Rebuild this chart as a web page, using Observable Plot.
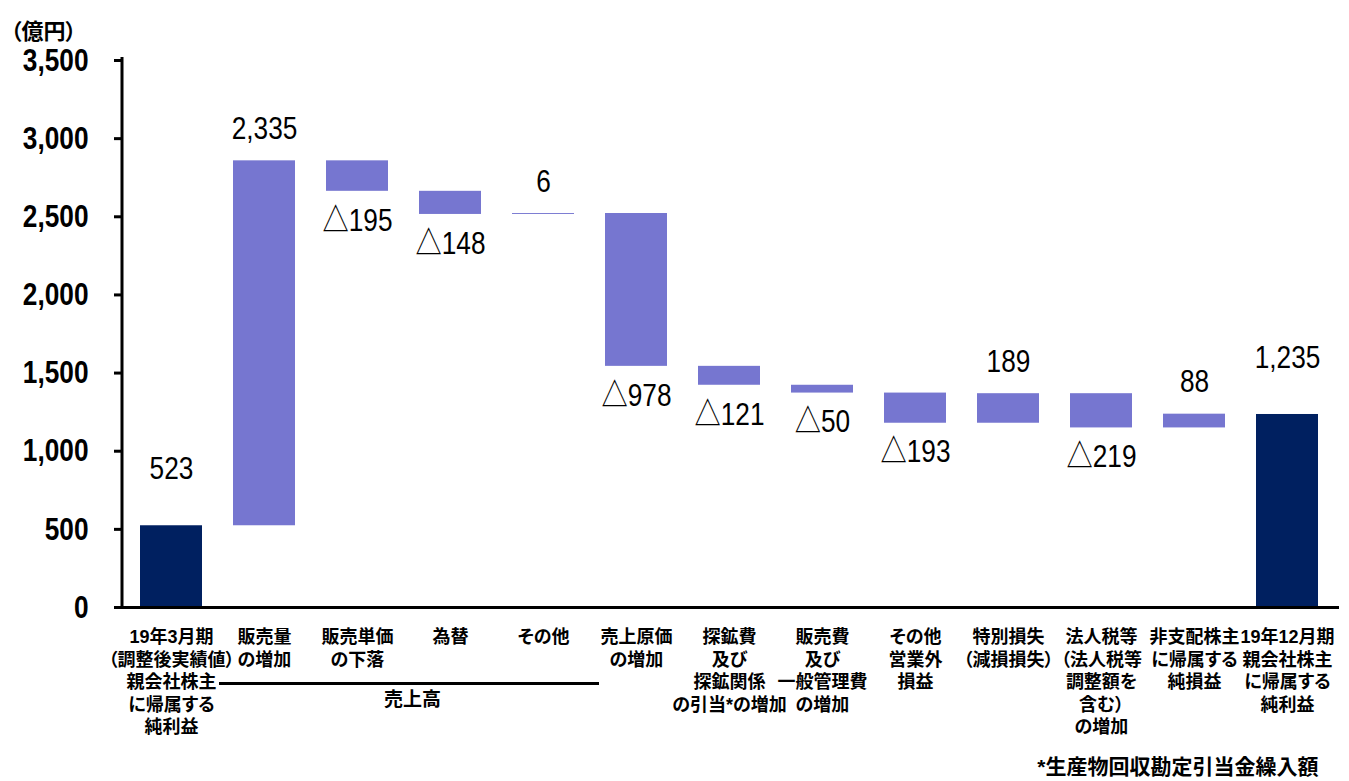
<!DOCTYPE html>
<html><head><meta charset="utf-8">
<script src="https://cdn.jsdelivr.net/npm/d3@7"></script>
<script src="https://cdn.jsdelivr.net/npm/@observablehq/plot@0.6"></script>
<style>
body{margin:0;background:#fff;}
svg text{font-feature-settings:"palt";}
g[aria-label="y-axis tick label"] text{font-weight:bold;}
g[aria-label="x-axis tick label"] text{font-weight:bold;}
</style></head><body><div id="chart"></div>
<script>
const categories = [
  "19年3月期\n（調整後実績値）\n親会社株主\nに帰属する\n純利益",
  "販売量\nの増加",
  "販売単価\nの下落",
  "為替",
  "その他",
  "売上原価\nの増加",
  "探鉱費\n及び\n探鉱関係\nの引当*の増加",
  "販売費\n及び\n一般管理費\nの増加",
  "その他\n営業外\n損益",
  "特別損失\n（減損損失）",
  "法人税等\n（法人税等\n調整額を\n含む）\nの増加",
  "非支配株主\nに帰属する\n純損益",
  "19年12月期\n親会社株主\nに帰属する\n純利益"
];
const values = [523, 2335, -195, -148, 6, -978, -121, -50, -193, 189, -219, 88, 1235];
const kinds = ["total","delta","delta","delta","delta","delta","delta","delta","delta","delta","delta","delta","total"];
const yTicks = [0, 500, 1000, 1500, 2000, 2500, 3000, 3500];
const groupLabel = "売上高";
const groupFrom = 1, groupTo = 4;
const unitLabel = "（億円）";
const footnote = "*生産物回収勘定引当金繰入額";

const FONT = "'Liberation Sans','Noto Sans CJK JP',sans-serif";
const fmt = d3.format(",");
let run = 0;
const rows = categories.map((c, i) => {
  const v = values[i];
  let a, b;
  if (kinds[i] === "total") { a = 0; b = v; run = v; }
  else { a = run; b = run + v; run = b; }
  return {cat: c, v, kind: kinds[i], lo: Math.min(a, b), hi: Math.max(a, b),
          label: v < 0 ? "△" + fmt(-v) : fmt(v)};
});

const plot = Plot.plot({
  width: 1349, height: 781,
  marginLeft: 122, marginRight: 13, marginTop: 60, marginBottom: 174,
  style: {fontFamily: FONT, color: "#000", background: "#fff", overflow: "visible"},
  x: {domain: categories, paddingInner: 0.33, paddingOuter: 0.165, label: null},
  y: {domain: [0, 3500], label: null},
  marks: [
    Plot.barY(rows.filter(d => d.kind === "delta"), {x: "cat", y1: "lo", y2: "hi", fill: "#7676D0"}),
    Plot.barY(rows.filter(d => d.kind === "total"), {x: "cat", y1: "lo", y2: "hi", fill: "#002060"}),
    Plot.ruleY([0], {stroke: "#000", strokeWidth: 3, insetLeft: -1, insetRight: -3}),
    Plot.axisY({ticks: yTicks, tickFormat: d => fmt(d), tickSize: 8, tickPadding: 26, strokeWidth: 3,
                fontSize: 32, fontWeight: "bold", label: null}),
    Plot.axisX({tickSize: 0, tickPadding: 20, fontSize: 18, fontWeight: "bold", lineHeight: 1.25, label: null}),
    Plot.text(rows.filter(d => d.kind === "total"), {x: "cat", y: "hi", text: "label", dy: -57, fontSize: 32, fill: "#000"}),
    Plot.text(rows.filter(d => d.kind === "delta" && d.v >= 0), {x: "cat", y: "hi", text: "label", dy: -32, fontSize: 32, fill: "#000"}),
    Plot.text(rows.filter(d => d.kind === "delta" && d.v < 0), {x: "cat", y: "lo", text: "label", dy: 29, fontSize: 32, fill: "#000"}),
    Plot.ruleY([0], {x1: () => categories[groupFrom], x2: () => categories[groupTo], dy: 76,
                     stroke: "#000", strokeWidth: 3, insetLeft: -14, insetRight: -25}),
    Plot.text([groupLabel], {x: () => categories[2], text: d => d, frameAnchor: "bottom", dx: 55, dy: 98,
                             fontSize: 19, fontWeight: "bold", fill: "#000"}),
    Plot.text([unitLabel], {text: d => d, frameAnchor: "top-left", textAnchor: "start", dx: -112, dy: -37,
                            fontSize: 22, fontWeight: "bold", fill: "#000"}),
    Plot.text([footnote], {text: d => d, frameAnchor: "bottom-right", textAnchor: "end", dx: -18, dy: 166,
                           fontSize: 21, fontWeight: "bold", fill: "#000"})
  ]
});

// narrow numeric glyphs (Arial Narrow look): scale horizontally about the anchor
d3.select(plot).selectAll("text").each(function () {
  const t = this.textContent;
  if (!/^[△\d,]+$/.test(t)) return;
  const tr = this.getAttribute("transform") || "";
  const xa = this.getAttribute("x");
  const x = xa !== null && isFinite(+xa) ? +xa : 0;
  if (xa !== null && isFinite(+xa)) this.removeAttribute("x");
  this.setAttribute("transform", `${tr} translate(${x},0) scale(0.82,1)`);
});

const ys = plot.scale("y"), xs = plot.scale("x");
d3.select(plot).append("line")
  .attr("x1", xs.range[0]).attr("x2", xs.range[0])
  .attr("y1", ys.apply(3500) - 3).attr("y2", ys.apply(0) + 1.5)
  .attr("stroke", "#000").attr("stroke-width", 3);

document.getElementById("chart").appendChild(plot);
</script></body></html>
